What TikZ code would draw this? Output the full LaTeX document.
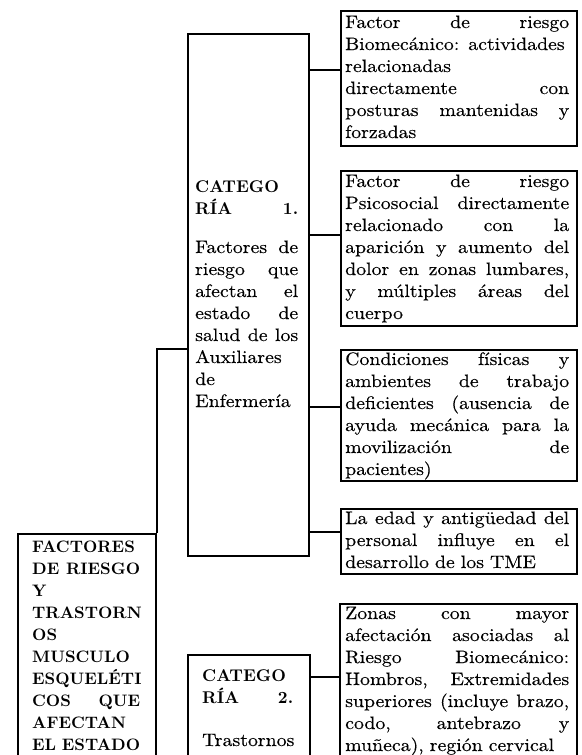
\documentclass[tikz,border=0pt]{standalone}
\usepackage{fontspec}
\newfontfamily\bodyfont{lmroman10-regular.otf}[FakeStretch=1.1,FakeBold=0.3]
\newfontfamily\headfont{lmroman10-bold.otf}
\newcommand\J[1]{\makebox[\linewidth][s]{\spaceskip=0.3333em plus 1fil\relax #1}\\}
\begin{document}
\begin{tikzpicture}[x=1pt,y=-1pt,
  box/.style={draw=black, line width=1.8pt, rectangle, inner sep=0pt, anchor=north west},
  conn/.style={draw=black, line width=1.8pt},
  body/.style={anchor=base west, inner sep=0pt, align=left, font={\bodyfont\fontsize{18}{22}\selectfont}},
  head/.style={anchor=base west, inner sep=0pt, align=left, font={\headfont\fontsize{17}{22}\selectfont}},
  roothead/.style={anchor=base west, inner sep=0pt, align=left, font={\headfont\fontsize{16.6}{22}\selectfont}}]
\useasboundingbox (0,0) rectangle (581,755);
\clip (0,0) rectangle (581,755);
% boxes
\node[box, minimum width=138pt, minimum height=300pt] (root) at (17,533) {};
\node[box, minimum width=121pt, minimum height=522pt] (cat1) at (187,33) {};
\node[box, minimum width=122pt, minimum height=200pt] (cat2) at (187,654) {};
\node[box, minimum width=236pt, minimum height=135pt] (A) at (340,10) {};
\node[box, minimum width=236pt, minimum height=155pt] (B) at (340,170) {};
\node[box, minimum width=236pt, minimum height=131pt] (C) at (340,349) {};
\node[box, minimum width=236pt, minimum height=65pt] (D) at (340,508) {};
\node[box, minimum width=237pt, minimum height=250pt] (E) at (339,603) {};
% connector levels
\coordinate (y1) at (0,349);
\coordinate (yA) at (0,70);
\coordinate (yB) at (0,235);
\coordinate (yC) at (0,407);
\coordinate (yD) at (0,532);
\coordinate (yE) at (0,677);
\draw[conn] (root.north east) |- (cat1.west |- y1);
\draw[conn] (cat1.east |- yA) -- (A.west |- yA);
\draw[conn] (cat1.east |- yB) -- (B.west |- yB);
\draw[conn] (cat1.east |- yC) -- (C.west |- yC);
\draw[conn] (cat1.east |- yD) -- (D.west |- yD);
\draw[conn] (cat2.east |- yE) -- (E.west |- yE);
% texts
\node[roothead, text width=108pt] (troot) at (32,552) {FACTORES\\\J{DE RIESGO}Y\\TRASTORN\\OS\\MUSCULO\\ESQUELÉTI\\\J{COS QUE}AFECTAN\\\J{EL ESTADO}};
\node[head, text width=103pt] (tc1h) at (195,192) {CATEGO\\\J{RÍA 1.}};
\node[body, text width=103pt] (tc1b) at (195,253) {\J{Factores de}\J{riesgo que}\J{afectan el}\J{estado de}\J{salud de los}Auxiliares\\de\\Enfermería};
\node[head, text width=91pt] (tc2h) at (202,681) {CATEGO\\\J{RÍA 2.}};
\node[body, text width=91pt] (tc2b) at (202,746) {Trastornos};
\node[body, text width=224pt] (tA) at (345,28) {\J{Factor de riesgo}\J{Biomecánico: actividades}relacionadas\\\J{directamente con}\J{posturas mantenidas y}forzadas};
\node[body, text width=224pt] (tB) at (345,187) {\J{Factor de riesgo}\J{Psicosocial directamente}\J{relacionado con la}\J{aparición y aumento del}\J{dolor en zonas lumbares,}\J{y múltiples áreas del}cuerpo};
\node[body, text width=224pt] (tC) at (345,365) {\J{Condiciones físicas y}\J{ambientes de trabajo}\J{deficientes (ausencia de}\J{ayuda mecánica para la}\J{movilización de}pacientes)};
\node[body, text width=224pt] (tD) at (345,524) {\J{La edad y antigüedad del}\J{personal influye en el}desarrollo de los TME};
\node[body, text width=224pt] (tE) at (345,619) {\J{Zonas con mayor}\J{afectación asociadas al}\J{Riesgo Biomecánico:}\J{Hombros, Extremidades}\J{superiores (incluye brazo,}\J{codo, antebrazo y}muñeca), región cervical};
\end{tikzpicture}
\end{document}
